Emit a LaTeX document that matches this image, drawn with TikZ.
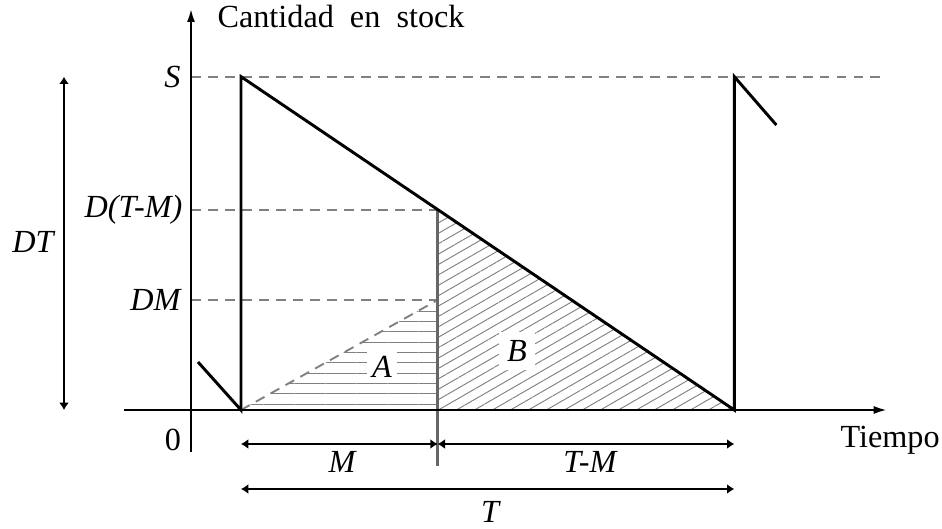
\documentclass[tikz,border=0pt]{standalone}
\usepackage{fontspec}
\setmainfont{Liberation Serif}
\usetikzlibrary{arrows.meta,positioning,calc,patterns.meta}

\begin{document}
\begin{tikzpicture}[
    >={Latex[length=0.22cm,width=0.3cm]},
    axis/.style={-{Latex[length=0.42cm,width=0.24cm]}, line width=2.2pt},
    stock/.style={line width=2.5pt},
    guide/.style={gray, line width=1.6pt, dash pattern=on 8.5pt off 6pt},
    dimline/.style={<->, line width=2.3pt},
    hatchA/.style={pattern={Lines[angle=0,distance=0.31cm,line width=0.8pt]},
                   pattern color=gray},
    hatchB/.style={pattern={Lines[angle=30,distance=0.27cm,line width=0.8pt]},
                   pattern color=gray},
    lbl/.style={font=\fontsize{27.5}{32}\selectfont\itshape, inner sep=2pt},
    txt/.style={font=\fontsize{27.5}{32}\selectfont, inner sep=2pt},
  ]
  \useasboundingbox (-5.73,-3.54) rectangle (22.53,12.3);

  % Key points
  \coordinate (o) at (0,0);
  \coordinate (t0) at (1.5,0);
  \coordinate (tM) at (7.4,0);
  \coordinate (tT) at (16.3,0);
  \coordinate (s0) at (1.5,10);
  \coordinate (sT) at (16.3,10);
  \coordinate (dtm) at (7.4,6.01);
  \coordinate (dm) at (7.4,3.3);

  % Shaded areas
  \fill[hatchA] (t0) -- (dm) -- (tM) -- cycle;
  \fill[hatchB] (dtm) -- (tM) -- (tT) -- cycle;
  \node[lbl, fill=white, inner sep=4pt] at (5.73,1.29) (areaA) {A};
  \node[lbl, fill=white, inner sep=7pt] at (9.78,1.77) (areaB) {B};

  % Guide lines
  \draw[guide] (0,10) -- (20.67,10);
  \draw[guide] (0,6.01) -- (dtm);
  \draw[guide] (0,3.3) -- (dm);
  \draw[guide] (t0) -- (dm);
  \draw[gray!80!black, line width=2pt] (dtm) -- (7.4,-1.68);

  % Axes
  \draw[axis] (-2,0) -- (20.9,0);
  \draw[axis] (0,-1.26) -- (0,12.06);

  % Stock level
  \draw[stock] (0.21,1.44) -- (t0) -- (s0) -- (tT) -- (sT) -- (17.56,8.55);

  % Axis labels
  \node[txt, anchor=west] at (0.72,11.8) (ylab)
    {Cantidad\hspace{0.5em}en\hspace{0.5em}stock};
  \node[txt, anchor=west] at (19.41,-0.9) (xlab) {Tiempo};
  \node[txt] at (-0.54,-0.9) (zero) {0};
  \node[lbl, anchor=east] at (-0.24,10) (lblS) {S};
  \node[lbl, anchor=east] at (-0.18,6.01) (lblDTM) {D(T-M)};
  \node[lbl, anchor=east] at (-0.24,3.3) (lblDM) {DM};

  % Dimensions
  \coordinate (dtA) at (-3.81,10);
  \coordinate (dtB) at (-3.81,0);
  \draw[dimline] (dtA) -- (dtB);
  \node[lbl] at (-4.74,5.04) (lblDT) {DT};

  \coordinate (m0) at (1.5,-1.02);
  \coordinate (m1) at (7.4,-1.02);
  \coordinate (m2) at (16.3,-1.02);
  \draw[dimline] (m0) -- (m1);
  \draw[dimline] (m1) -- (m2);
  \node[lbl] at (4.53,-1.56) (lblM) {M};
  \node[lbl] at (11.97,-1.56) (lblTM) {T-M};

  \coordinate (T0) at (1.5,-2.37);
  \coordinate (T1) at (16.3,-2.37);
  \draw[dimline] (T0) -- (T1);
  \node[lbl] at (8.97,-3.06) (lblT) {T};

\end{tikzpicture}
\end{document}
